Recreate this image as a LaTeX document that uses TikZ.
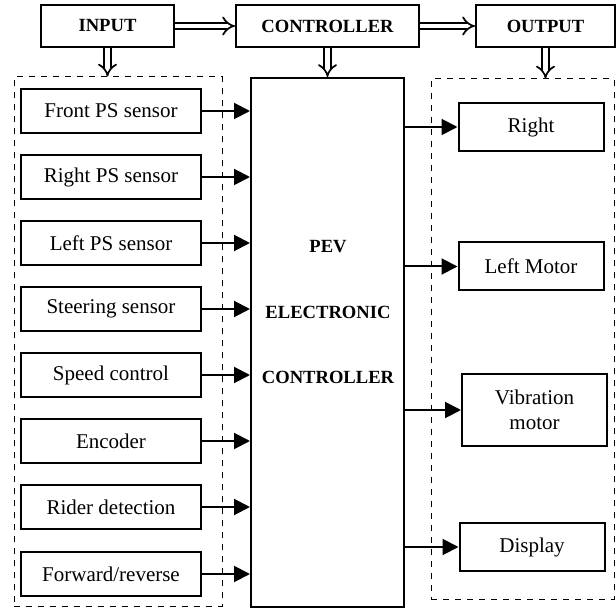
\documentclass[tikz,border=0pt]{standalone}
\usepackage{fontspec}
\setmainfont{Liberation Serif}
\usepackage{tikz}
\usetikzlibrary{arrows.meta}
\tikzstyle{block}=[draw, line width=1pt, minimum width=90pt, minimum height=22pt, inner sep=0pt, font=\fontsize{10.5}{12.5}\selectfont]
\tikzstyle{outblock}=[block, minimum width=72.5pt, minimum height=24pt, align=center]
\tikzstyle{head}=[draw, line width=1pt, minimum height=21pt, inner sep=0pt, font=\bfseries\fontsize{9.3}{11}\selectfont]
\tikzstyle{title}=[inner sep=0pt, font=\bfseries\fontsize{9.3}{11}\selectfont]
\tikzstyle{group}=[draw, dashed, line width=0.5pt, inner sep=0pt]
\tikzstyle{signal}=[line width=1pt, -{Triangle[length=8pt,width=8pt]}]
\tikzstyle{flow}=[draw, double, double distance=2.4pt, line width=0.85pt, -{Implies}]

\begin{document}
\begin{tikzpicture}[x=0.5pt, y=-0.5pt]
		   \useasboundingbox (0,0) rectangle (616,609);
		   % top row
		   \begin{scope}
			   \node (in) at (107.5, 26)[head, minimum width=66.5pt] {INPUT};
			   \node (ctl) at (327.5, 26)[head, minimum width=91.5pt] {CONTROLLER};
			   \node (out) at (545.5, 26)[head, minimum width=69.5pt] {OUTPUT};
		   \end{scope}
		   % groups and controller
		   \begin{scope}
			   \node (lgrp) at (118, 341.5)[group, minimum width=104pt, minimum height=264.5pt] {};
			   \node (rgrp) at (522.5, 339)[group, minimum width=91.5pt, minimum height=260pt] {};
			   \node (pev) at (327.5, 342.5)[draw, line width=1pt, minimum width=76.5pt, minimum height=264.5pt] {};
			   \node (t1) at (328, 247)[title] {PEV};
			   \node (t2) at (328, 312)[title] {ELECTRONIC};
			   \node (t3) at (328, 377)[title] {CONTROLLER};
		   \end{scope}
		   % inputs
		   \begin{scope}
			   \node (s1) at (111, 111)[block] {Front PS sensor};
			   \node (s2) at (111, 177)[block] {Right PS sensor};
			   \node (s3) at (111, 243)[block] {Left PS sensor};
			   \node (s4) at (111, 309)[block] {Steering sensor};
			   \node (s5) at (111, 375)[block] {Speed control};
			   \node (s6) at (111, 441)[block] {Encoder};
			   \node (s7) at (111, 507)[block] {Rider detection};
			   \node (s8) at (111, 574)[block] {Forward/reverse};
		   \end{scope}
		   % outputs
		   \begin{scope}
			   \node (o1) at (531, 127)[outblock] {Right};
			   \node (o2) at (531, 266.5)[outblock] {Left Motor};
			   \node (o3) at (534.5, 410)[outblock, minimum height=36pt] {Vibration\\motor};
			   \node (o4) at (532, 547)[outblock] {Display};
		   \end{scope}
		   % links
		   \begin{scope}
			   \draw [flow] (in) -- (ctl);
			   \draw [flow] (ctl) -- (out);
			   \draw [flow] (in.south) -- (in.south |- lgrp.north);
			   \draw [flow] (ctl.south) -- (ctl.south |- pev.north);
			   \draw [flow] (out.south) -- (out.south |- rgrp.north);
			   \foreach \s in {s1,s2,s3,s4,s5,s6,s7,s8}
				   \path [signal] (\s.east) edge (\s.east -| pev.west);
			   \foreach \o in {o1,o2,o3,o4}
				   \path [signal] (pev.east |- \o.west) edge (\o.west);
		   \end{scope}
	   \end{tikzpicture}
\end{document}
